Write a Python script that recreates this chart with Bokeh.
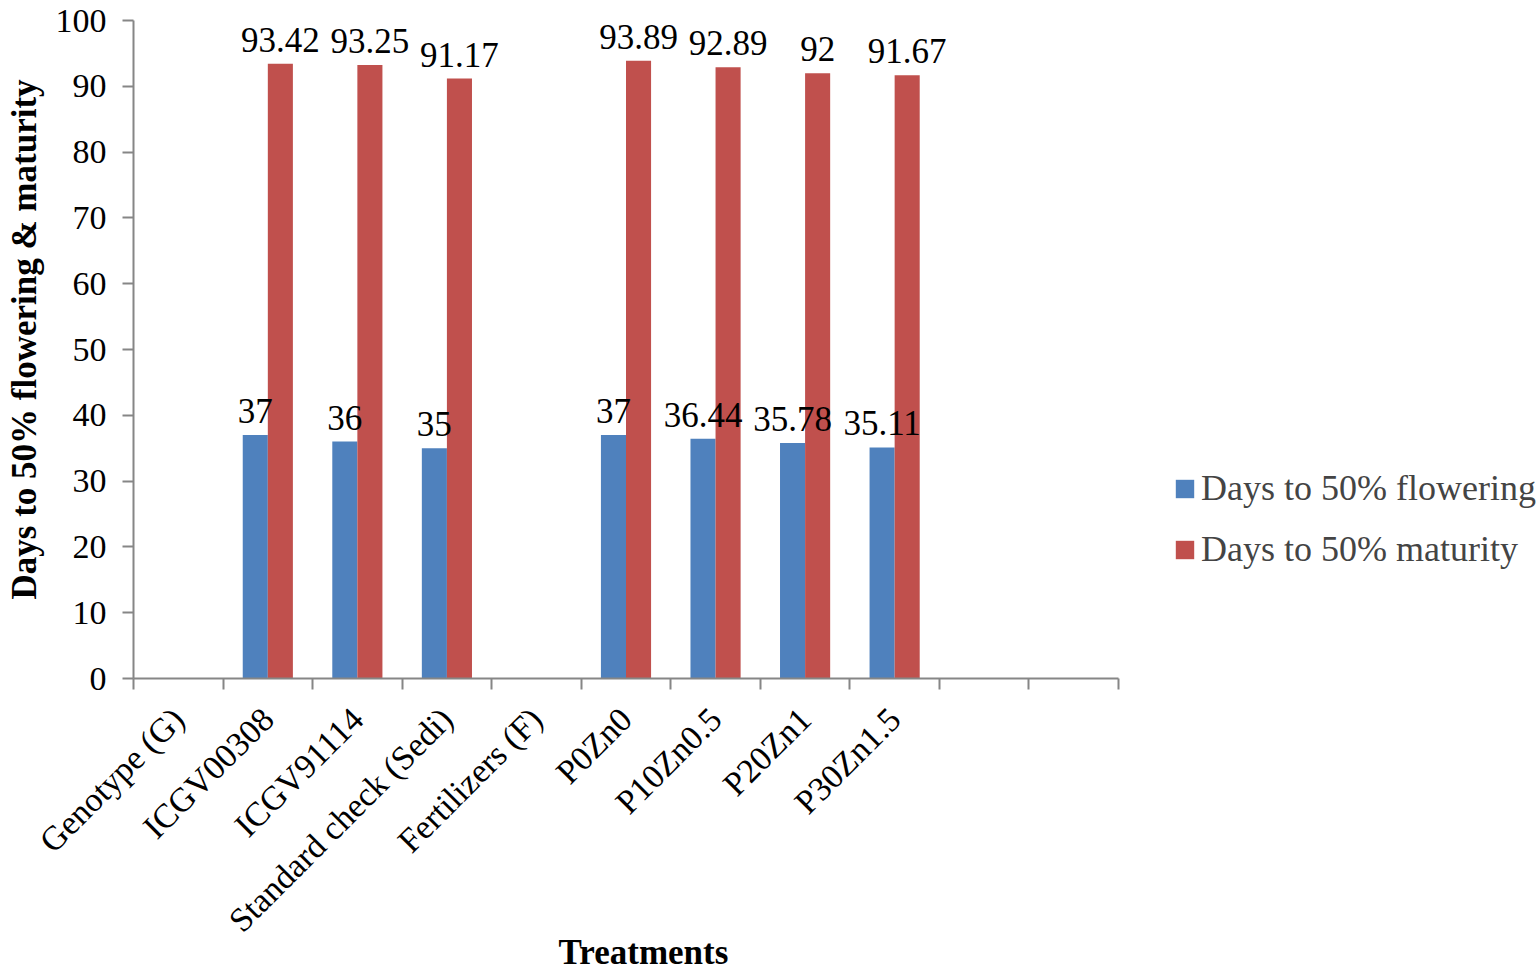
import math
from bokeh.plotting import figure
from bokeh.models import (Range1d, FixedTicker, Legend, LegendItem, ColumnDataSource,
                          LinearAxis)
from bokeh.embed import file_html
from bokeh.resources import INLINE
from bokeh.core.properties import value

# ---- data ----
categories = ["Genotype (G)", "ICGV00308", "ICGV91114", "Standard check (Sedi)",
              "Fertilizers (F)", "P0Zn0", "P10Zn0.5", "P20Zn1", "P30Zn1.5", "", ""]
flowering = [None, 37, 36, 35, None, 37, 36.44, 35.78, 35.11, None, None]
maturity = [None, 93.42, 93.25, 91.17, None, 93.89, 92.89, 92, 91.67, None, None]
series_names = ["Days to 50% flowering", "Days to 50% maturity"]
y_ticks = [0, 10, 20, 30, 40, 50, 60, 70, 80, 90, 100]
x_title = "Treatments"
y_title = "Days to 50% flowering & maturity"

FONT = "Liberation Serif"
AXIS_COLOR = "#868686"
BLUE = "#4F81BD"
RED = "#C0504D"
BAR_W = 0.28
OFFSET = 0.14
N = len(categories)
X_TITLE_POS = 5.695   # horizontal position of the x-axis title (axis units)


def series_source(vals, shift):
    xs, ys, labels = [], [], []
    for i, v in enumerate(vals):
        if v is None:
            continue
        xs.append(i + 0.5 + shift)
        ys.append(v)
        labels.append(f"{v:g}")
    return ColumnDataSource(dict(x=xs, top=ys, label=labels))


src_f = series_source(flowering, -OFFSET)
src_m = series_source(maturity, OFFSET)

# frame spans to the right edge so the legend sits inside it; axis limited by bounds
p = figure(width=1536, height=974,
           x_range=Range1d(0, 15.668), y_range=Range1d(0, 103.04),
           output_backend="svg", toolbar_location=None,
           min_border_left=133, min_border_right=0,
           min_border_top=0, min_border_bottom=296)
p.xgrid.visible = False
p.ygrid.visible = False
p.outline_line_color = None
p.background_fill_color = "white"
p.border_fill_color = "white"

r_f = p.vbar(x="x", top="top", width=BAR_W, bottom=0, source=src_f,
             fill_color=BLUE, line_color=None)
r_m = p.vbar(x="x", top="top", width=BAR_W, bottom=0, source=src_m,
             fill_color=RED, line_color=None)

for src in (src_f, src_m):
    p.text(x="x", y="top", text="label", source=src,
           text_align="center", text_baseline="alphabetic", y_offset=-24,
           text_font=value(FONT), text_font_size="35px", text_color="black")

# y axis
ya = p.yaxis[0]
ya.ticker = FixedTicker(ticks=y_ticks, minor_ticks=[])
ya.bounds = (0, 100)
ya.axis_line_color = AXIS_COLOR
ya.axis_line_width = 2
ya.major_tick_line_color = AXIS_COLOR
ya.major_tick_line_width = 2
ya.major_tick_out = 11
ya.major_tick_in = 0
ya.minor_tick_line_color = None
ya.major_label_standoff = 16
ya.major_label_text_font = FONT
ya.major_label_text_font_size = "34px"
ya.major_label_text_color = "black"
ya.axis_label = y_title
ya.axis_label_standoff = 9
ya.axis_label_text_font = FONT
ya.axis_label_text_font_size = "35px"
ya.axis_label_text_font_style = "bold"
ya.axis_label_text_color = "black"

# x axis: labels at category centres, tick marks at category boundaries
xa = p.xaxis[0]
centers = [i + 0.5 for i in range(N)]
xa.ticker = FixedTicker(ticks=centers, minor_ticks=list(range(N + 1)))
xa.bounds = (0, N)
xa.major_label_overrides = {c: lab for c, lab in zip(centers, categories)}
xa.axis_line_color = AXIS_COLOR
xa.axis_line_width = 2
xa.major_tick_line_color = None
xa.major_tick_out = 0
xa.major_tick_in = 0
xa.minor_tick_line_color = AXIS_COLOR
xa.minor_tick_line_width = 2
xa.minor_tick_out = 11
xa.minor_tick_in = 0
xa.major_label_orientation = math.pi / 4
xa.major_label_standoff = 24
xa.major_label_text_font = FONT
xa.major_label_text_font_size = "34px"
xa.major_label_text_color = "black"

# x-axis title, drawn by a second (line-less) axis so it can sit off-centre
xt = LinearAxis(ticker=FixedTicker(ticks=[X_TITLE_POS], minor_ticks=[]),
                major_label_overrides={X_TITLE_POS: x_title},
                axis_line_color=None, major_tick_line_color=None,
                minor_tick_line_color=None, major_tick_out=0, major_tick_in=0,
                minor_tick_out=0, minor_tick_in=0,
                major_label_standoff=-22,
                major_label_text_font=FONT, major_label_text_font_size="35px",
                major_label_text_font_style="bold", major_label_text_color="black")
p.add_layout(xt, "below")

legend = Legend(items=[LegendItem(label=series_names[0], renderers=[r_f]),
                       LegendItem(label=series_names[1], renderers=[r_m])],
                location=(1040, 108), orientation="vertical",
                glyph_width=23, glyph_height=23, label_standoff=5,
                spacing=19, padding=0, margin=0,
                label_text_font=FONT, label_text_font_size="36px",
                border_line_color=None, background_fill_alpha=0)
p.add_layout(legend, "center")

open("out.html", "w").write(file_html(p, INLINE))
